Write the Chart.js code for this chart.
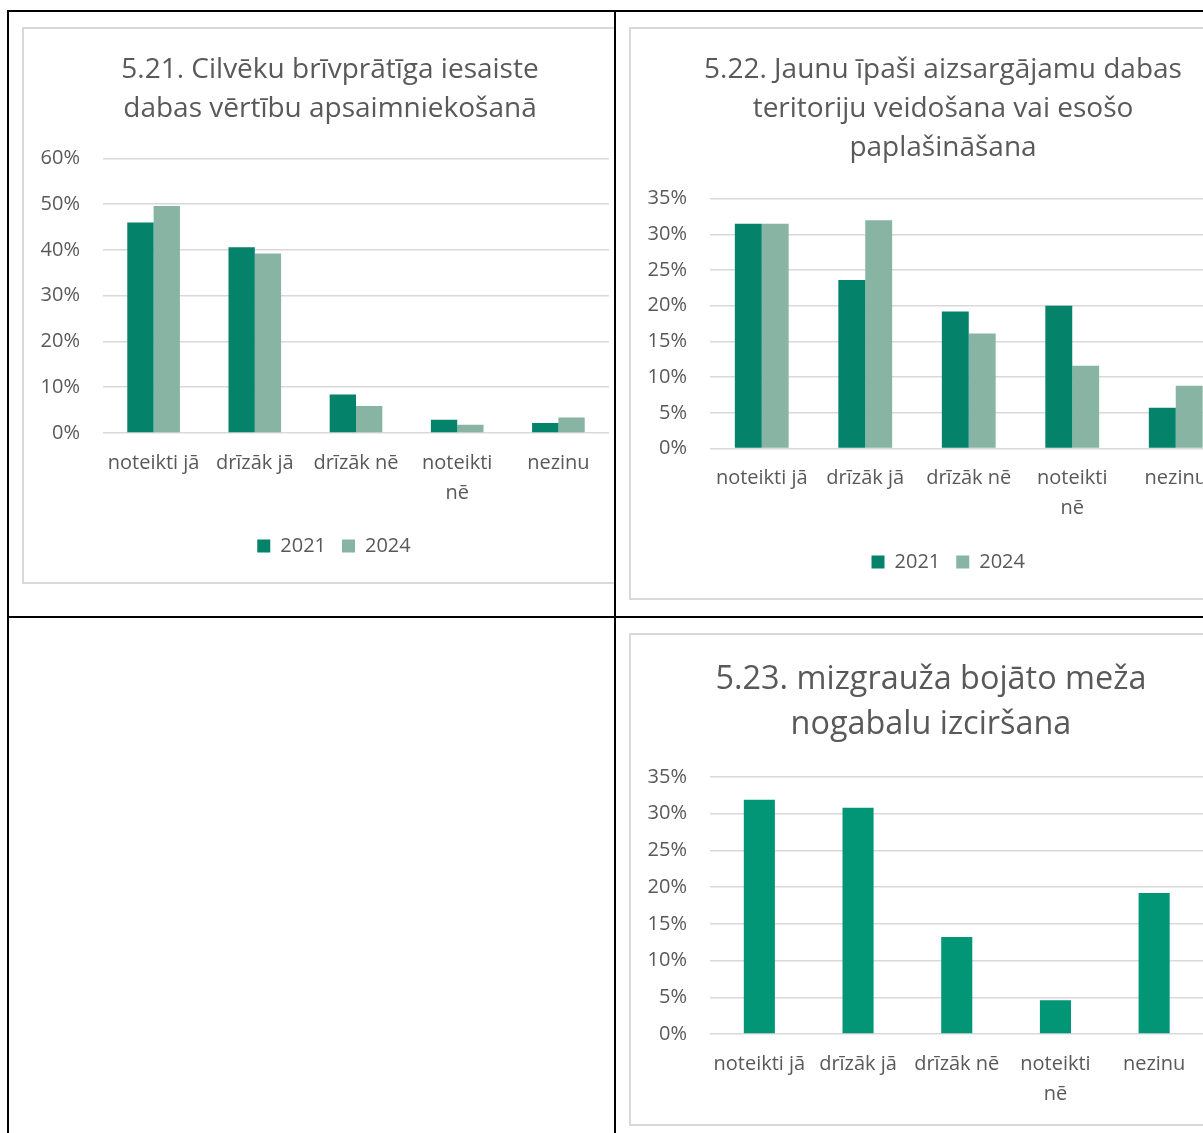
<!DOCTYPE html>
<html>
<head>
<meta charset="utf-8">
<script src="https://cdn.jsdelivr.net/npm/chart.js@4.4.1/dist/chart.umd.min.js"></script>
<style>
  html, body { margin: 0; padding: 0; background: #fff; overflow: hidden; }
  body { width: 1203px; height: 1133px; position: relative; }
  .line { position: absolute; background: #000; }
  .cell { position: absolute; overflow: hidden; }
  .frame { position: absolute; border: 2px solid #d9d9d9; box-sizing: border-box; background: #fff; }
  .frame canvas { position: absolute; left: -2px; top: -2px; }
</style>
</head>
<body>
<!-- table borders -->
<div class="line" style="left:7px; top:10px; width:2px; height:1200px;"></div>
<div class="line" style="left:7px; top:10px; width:1300px; height:2px;"></div>
<div class="line" style="left:614px; top:10px; width:2px; height:1200px;"></div>
<div class="line" style="left:7px; top:616px; width:1300px; height:2px;"></div>

<div class="cell" style="left:9px; top:12px; width:605px; height:604px;">
  <div class="frame" style="left:13px; top:15px; width:620px; height:557px;">
    <canvas id="c521" width="620" height="557"></canvas>
  </div>
</div>
<div class="cell" style="left:616px; top:12px; width:700px; height:604px;">
  <div class="frame" style="left:13px; top:15px; width:628px; height:573px;">
    <canvas id="c522" width="628" height="573"></canvas>
  </div>
</div>
<div class="cell" style="left:616px; top:618px; width:700px; height:600px;">
  <div class="frame" style="left:13px; top:15px; width:604px; height:493px;">
    <canvas id="c523" width="604" height="493"></canvas>
  </div>
</div>

<script>
const categories = ["noteikti jā", "drīzāk jā", "drīzāk nē", ["noteikti", "nē"], "nezinu"];
const years = ["2021", "2024"];

const title521 = ["5.21. Cilvēku brīvprātīga iesaiste", "dabas vērtību apsaimniekošanā"];
const v521_2021 = [46.0, 40.6, 8.4, 2.9, 2.2];
const v521_2024 = [49.6, 39.2, 5.9, 1.8, 3.4];

const title522 = ["5.22. Jaunu īpaši aizsargājamu dabas", "teritoriju veidošana vai esošo", "paplašināšana"];
const v522_2021 = [31.5, 23.6, 19.2, 20.0, 5.7];
const v522_2024 = [31.5, 32.0, 16.1, 11.6, 8.8];

const title523 = ["5.23. mizgrauža bojāto meža", "nogabalu izciršana"];
const v523 = [31.9, 30.8, 13.2, 4.6, 19.2];

const FONT = "'Open Sans', sans-serif";
const TEXT = "#595959";
const GRID = "#d9d9d9";
const DARK = "#04826a";
const LIGHT = "#87b4a3";
const MID = "#039676";

// nudge title / legend sideways (Excel centres them on the whole chart box)
const nudge = {
  id: "nudge",
  afterLayout(chart, args, opts) {
    if (chart.titleBlock) { chart.titleBlock.left += opts.title; chart.titleBlock.right += opts.title; }
    if (chart.legend) { chart.legend.left += opts.legend; chart.legend.right += opts.legend; }
  }
};

function makeChart(id, cfg) {
  new Chart(document.getElementById(id), {
    type: "bar",
    data: { labels: categories, datasets: cfg.datasets },
    plugins: [nudge],
    options: {
      responsive: false,
      animation: false,
      layout: { padding: cfg.padding, autoPadding: false },
      plugins: {
        nudge: cfg.nudge,
        title: {
          display: true,
          text: cfg.title,
          color: TEXT,
          font: { family: FONT, size: cfg.titleSize, weight: "normal", lineHeight: cfg.titleLH },
          padding: cfg.titlePad
        },
        legend: {
          display: cfg.legend,
          position: "bottom",
          labels: {
            color: TEXT,
            font: { family: FONT, size: 20 },
            boxWidth: 13, boxHeight: 13,
            padding: 16
          }
        },
        tooltip: { enabled: false }
      },
      scales: {
        x: {
          grid: { display: false },
          border: { display: false },
          ticks: {
            color: TEXT, padding: 7, maxRotation: 0, autoSkip: false,
            font: { family: FONT, size: 20, lineHeight: 1.5 }
          },
          afterFit: cfg.xFit
        },
        y: {
          min: 0, max: cfg.yMax,
          border: { display: false },
          grid: { color: GRID, lineWidth: 1.5, drawTicks: false },
          ticks: {
            stepSize: cfg.yStep, color: TEXT, padding: 23,
            font: { family: FONT, size: 20 },
            callback: v => v + "%"
          },
          afterFit: a => { a.width = 63; }
        }
      }
    }
  });
}

makeChart("c521", {
  title: title521, titleSize: 28, titleLH: 1.39, titlePad: { top: 24, bottom: 29.5 },
  datasets: [
    { label: years[0], data: v521_2021, backgroundColor: DARK, barPercentage: 1, categoryPercentage: 0.52 },
    { label: years[1], data: v521_2024, backgroundColor: LIGHT, barPercentage: 1, categoryPercentage: 0.52 }
  ],
  yMax: 60, yStep: 10, legend: true,
  xFit: a => { a.height = 87; },
  padding: { left: 18, right: 33, top: 0, bottom: 18 },
  nudge: { title: 5.5, legend: 9.5 }
});

makeChart("c522", {
  title: title522, titleSize: 28, titleLH: 1.39, titlePad: { top: 24, bottom: 31 },
  datasets: [
    { label: years[0], data: v522_2021, backgroundColor: DARK, barPercentage: 1, categoryPercentage: 0.52 },
    { label: years[1], data: v522_2024, backgroundColor: LIGHT, barPercentage: 1, categoryPercentage: 0.52 }
  ],
  yMax: 35, yStep: 5, legend: true,
  xFit: a => { a.height = 87.5; },
  padding: { left: 18, right: 29.5, top: 0, bottom: 18 },
  nudge: { title: 5.75, legend: 11 }
});

makeChart("c523", {
  title: title523, titleSize: 32.4, titleLH: 1.389, titlePad: { top: 24.5, bottom: 29.5 },
  datasets: [
    { label: "", data: v523, backgroundColor: MID, barPercentage: 0.315, categoryPercentage: 1 }
  ],
  yMax: 35, yStep: 5, legend: false,
  xFit: a => { a.height = 92; },
  padding: { left: 18, right: 29.5, top: 0, bottom: 0 },
  nudge: { title: 5.7, legend: 0 }
});
</script>
</body>
</html>
